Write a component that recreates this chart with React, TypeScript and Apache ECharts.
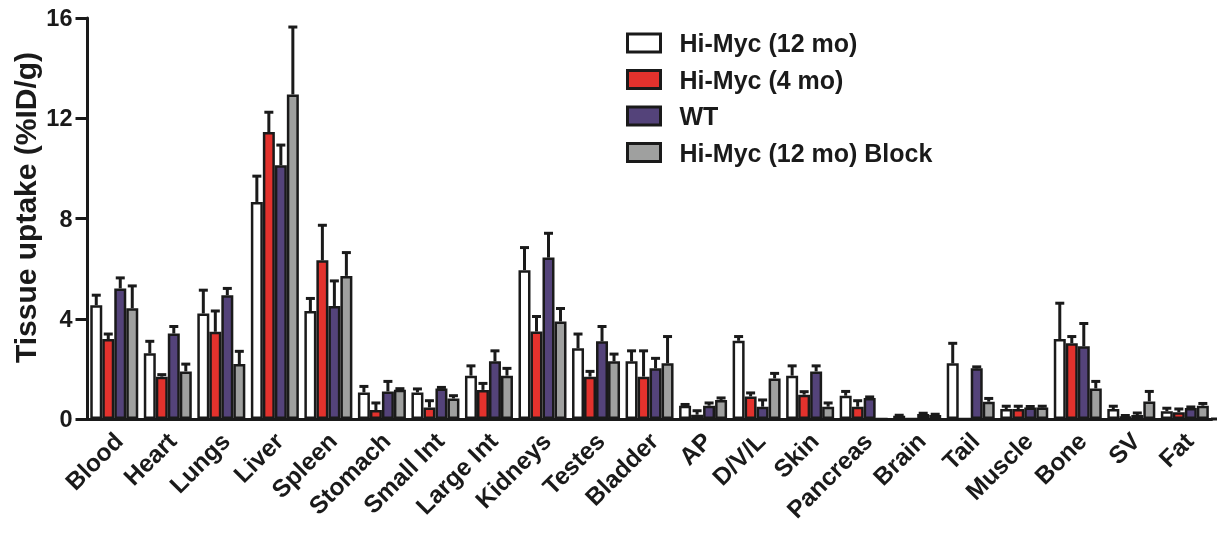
import React, { useEffect, useRef } from "react";
import * as echarts from "echarts";

const categories = [
  "Blood", "Heart", "Lungs", "Liver", "Spleen", "Stomach", "Small Int", "Large Int",
  "Kidneys", "Testes", "Bladder", "AP", "D/V/L", "Skin", "Pancreas", "Brain", "Tail",
  "Muscle", "Bone", "SV", "Fat",
];

const seriesNames = ["Hi-Myc (12 mo)", "Hi-Myc (4 mo)", "WT", "Hi-Myc (12 mo) Block"];
const seriesColors = ["#ffffff", "#e3322d", "#54437a", "#9fa09f"];

const hiMyc12Mean = [4.54, 2.62, 4.21, 8.66, 4.31, 1.06, 1.06, 1.73, 5.94, 2.82, 2.30, 0.53, 3.12, 1.73, 0.93, 0.13, 2.22, 0.40, 3.19, 0.40, 0.31];
const hiMyc12Sem = [0.40, 0.48, 0.93, 1.03, 0.50, 0.24, 0.14, 0.39, 0.90, 0.57, 0.42, 0.05, 0.17, 0.39, 0.17, 0.02, 0.80, 0.11, 1.43, 0.11, 0.12];

const hiMyc4Mean = [3.19, 1.69, 3.48, 11.45, 6.33, 0.36, 0.46, 1.16, 3.49, 1.69, 1.69, 0.17, 0.90, 0.97, 0.49, 0, 0, 0.40, 3.02, 0.11, 0.27];
const hiMyc4Sem = [0.20, 0.08, 0.83, 0.79, 1.40, 0.28, 0.27, 0.26, 0.60, 0.21, 1.03, 0.16, 0.14, 0.12, 0.24, 0, 0, 0.11, 0.27, 0.03, 0.13];

const wtMean = [5.21, 3.41, 4.94, 10.12, 4.51, 1.10, 1.22, 2.30, 6.44, 3.10, 2.02, 0.53, 0.49, 1.90, 0.84, 0.20, 2.02, 0.46, 2.90, 0.16, 0.44];
const wtSem = [0.42, 0.28, 0.27, 0.81, 1.00, 0.40, 0.04, 0.42, 0.97, 0.59, 0.40, 0.11, 0.27, 0.22, 0.04, 0.03, 0.06, 0.04, 0.91, 0.08, 0.04];

const blockMean = [4.42, 1.90, 2.19, 12.95, 5.71, 1.17, 0.82, 1.73, 3.89, 2.30, 2.22, 0.76, 1.62, 0.49, 0, 0.16, 0.69, 0.46, 1.22, 0.70, 0.53];
const blockSem = [0.89, 0.29, 0.51, 2.69, 0.93, 0.04, 0.11, 0.29, 0.52, 0.29, 1.07, 0.08, 0.20, 0.15, 0, 0.03, 0.13, 0.05, 0.28, 0.40, 0.09];

const yTicks = [0, 4, 8, 12, 16];

const means = [hiMyc12Mean, hiMyc4Mean, wtMean, blockMean];
const sems = [hiMyc12Sem, hiMyc4Sem, wtSem, blockSem];

const INK = "#1a1a1a";
const FONT = "'Liberation Sans', Arial, sans-serif";
const BAR_W = 12;

export default function App() {
  const ref = useRef<HTMLDivElement>(null);
  useEffect(() => {
    if (!ref.current) return;
    const chart = echarts.init(ref.current, null, { renderer: "svg" });

    const barSeries = seriesNames.map((name, k) => ({
      name,
      type: "bar",
      barWidth: BAR_W,
      barGap: "0%",
      data: means[k],
      itemStyle: { color: seriesColors[k], borderColor: INK, borderWidth: 2.5 },
      z: 2,
    }));

    const errSeries = seriesNames.map((name, k) => ({
      name: "err" + k,
      type: "custom",
      z: 3,
      silent: true,
      data: means[k].map((m, i) => [i, m, m + sems[k][i]]),
      renderItem: (params: any, api: any) => {
        const idx = api.value(0);
        const m = api.value(1);
        const top = api.value(2);
        if (top - m <= 0) return null;
        const off = (k - 1.5) * BAR_W;
        const p0 = api.coord([idx, m]);
        const p1 = api.coord([idx, top]);
        const x = p0[0] + off;
        const half = 4.5;
        return {
          type: "group",
          children: [
            { type: "line", shape: { x1: x, y1: p0[1], x2: x, y2: p1[1] }, style: { stroke: INK, lineWidth: 3 } },
            { type: "line", shape: { x1: x - half, y1: p1[1], x2: x + half, y2: p1[1] }, style: { stroke: INK, lineWidth: 3 } },
          ],
        };
      },
    }));

    chart.setOption({
      animation: false,
      textStyle: { fontFamily: FONT },
      grid: { left: 87.5, right: 5.4, top: 18, bottom: 115, containLabel: false },
      legend: {
        data: seriesNames,
        orient: "vertical",
        left: 621,
        top: 25.5,
        itemWidth: 33,
        itemHeight: 18,
        itemGap: 11.5,
        icon: "rect",
        itemStyle: { borderColor: INK, borderWidth: 3 },
        textStyle: { fontSize: 25, fontWeight: "bold", color: INK, fontFamily: FONT, padding: [0, 0, 0, 14] },
      },
      xAxis: {
        type: "category",
        data: categories,
        axisLine: { lineStyle: { color: INK, width: 3 } },
        axisTick: { alignWithLabel: true, length: 10, lineStyle: { color: INK, width: 3 } },
        axisLabel: {
          interval: 0,
          rotate: 45,
          margin: 22,
          padding: [0, -6, 0, 0],
          fontSize: 24.5,
          fontWeight: "bold",
          color: INK,
          fontFamily: FONT,
        },
      },
      yAxis: {
        type: "value",
        min: yTicks[0],
        max: yTicks[yTicks.length - 1],
        interval: 4,
        axisLine: { show: true, lineStyle: { color: INK, width: 3 } },
        axisTick: { show: true, length: 12, lineStyle: { color: INK, width: 3 } },
        splitLine: { show: false },
        axisLabel: { fontSize: 23.5, fontWeight: "bold", color: INK, margin: 15, fontFamily: FONT },
      },
      graphic: [
        {
          type: "text",
          x: 25.5,
          y: 207.5,
          rotation: Math.PI / 2,
          style: {
            text: "Tissue uptake (%ID/g)",
            font: "bold 30px " + FONT,
            fill: INK,
            align: "center",
            verticalAlign: "middle",
          },
        },
        {
          type: "line",
          shape: { x1: 1211, y1: 419, x2: 1217, y2: 419 },
          style: { stroke: INK, lineWidth: 3 },
        },
      ],
      series: [...barSeries, ...errSeries],
    });
    return () => chart.dispose();
  }, []);
  return <div ref={ref} style={{ position: "fixed", left: 0, top: 0, width: 1217, height: 534 }} />;
}
